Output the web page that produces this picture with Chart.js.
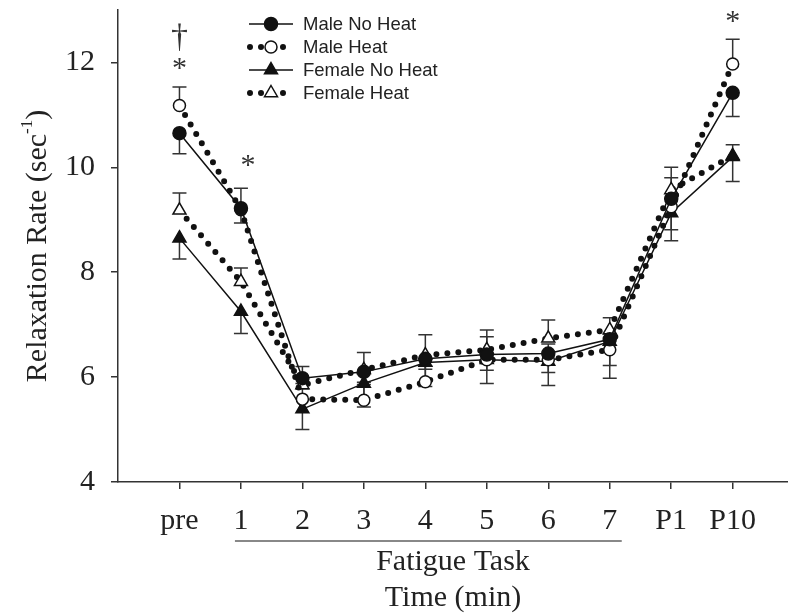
<!DOCTYPE html>
<html>
<head>
    <title>Relaxation Rate</title>
    <script src="https://cdn.jsdelivr.net/npm/chart.js"></script>
    <style>
        body { margin: 0; background: #fff; }
        .wrap { width: 788px; height: 616px; }
    </style>
</head>
<body>
    <div class="wrap"><canvas id="relaxChart" width="788" height="616"></canvas></div>

    <script>
        // Time points (pre, fatigue task minutes 1-7, post 1 and post 10)
        const timeLabels = ['pre', '1', '2', '3', '4', '5', '6', '7', 'P1', 'P10'];

        // Relaxation rate (sec^-1)
        const maleNoHeat     = [10.65, 9.22, 5.98, 6.10, 6.35, 6.43, 6.45, 6.72, 9.40, 11.42];
        const maleHeat       = [11.18, 9.19, 5.58, 5.56, 5.91, 6.33, 6.33, 6.52, 9.25, 11.97];
        const femaleNoHeat   = [8.65, 7.25, 5.39, 5.88, 6.28, 6.33, 6.30, 6.68, 9.13, 10.20];
        const femaleHeat     = [9.18, 7.82, 5.85, 6.14, 6.42, 6.52, 6.74, 6.90, 9.57, 10.22];

        // Standard errors (No Heat bars drawn down, Heat bars drawn up)
        const maleNoHeatErr   = [0.39, 0.28, 0.20, 0.20, 0.20, 0.30, 0.36, 0.50, 0.59, 0.45];
        const maleHeatErr     = [0.35, 0.41, 0.30, 0.30, 0.30, 0.44, 0.30, 0.30, 0.55, 0.47];
        const femaleNoHeatErr = [0.40, 0.42, 0.39, 0.45, 0.46, 0.45, 0.46, 0.70, 0.53, 0.47];
        const femaleHeatErr   = [0.33, 0.26, 0.35, 0.33, 0.39, 0.38, 0.35, 0.23, 0.43, 0.21];

        // Significance marks: time index, level, symbol
        const markIndex = [0, 0, 1, 9];
        const markLevel = [12.47, 12.03, 10.18, 12.93];
        const markText  = ['\u2020', '*', '*', '*'];

        const seriesNames = ['Male No Heat', 'Male Heat', 'Female No Heat', 'Female Heat'];

        const serif = '"Liberation Serif", "Times New Roman", serif';
        const sans = '"Liberation Sans", Arial, sans-serif';

        const series = [
            { name: seriesNames[0], values: maleNoHeat, err: maleNoHeatErr, dir: -1, dotted: false, shape: 'circle', filled: true, radius: 6.5 },
            { name: seriesNames[1], values: maleHeat, err: maleHeatErr, dir: 1, dotted: true, shape: 'circle', filled: false, radius: 6 },
            { name: seriesNames[2], values: femaleNoHeat, err: femaleNoHeatErr, dir: -1, dotted: false, shape: 'triangle', filled: true, radius: 7.5 },
            { name: seriesNames[3], values: femaleHeat, err: femaleHeatErr, dir: 1, dotted: true, shape: 'triangle', filled: false, radius: 7.5 }
        ];

        function styleFor(s) {
            return {
                borderColor: '#111',
                borderWidth: s.dotted ? 6 : 1.5,
                borderDash: s.dotted ? [0, 11] : [],
                borderCapStyle: s.dotted ? 'round' : 'butt',
                pointStyle: s.shape,
                pointRadius: s.radius,
                pointBackgroundColor: s.filled ? '#111' : '#fff',
                pointBorderColor: '#111',
                pointBorderWidth: 1.5
            };
        }

        const datasets = series.map(s => Object.assign({
            label: s.name,
            data: s.values.map((v, i) => ({ x: i, y: v })),
            fill: false,
            tension: 0
        }, styleFor(s)));

        // Error bars, legend, marks and titles
        const overlay = {
            id: 'overlay',
            beforeDatasetsDraw(chart) {
                const { ctx, scales: { x, y } } = chart;
                ctx.save();
                ctx.strokeStyle = '#333';
                ctx.lineWidth = 1.5;
                series.forEach(s => {
                    s.values.forEach((v, i) => {
                        const px = x.getPixelForValue(i);
                        const p0 = y.getPixelForValue(v);
                        const p1 = y.getPixelForValue(v + s.dir * s.err[i]);
                        ctx.beginPath();
                        ctx.moveTo(px, p0); ctx.lineTo(px, p1);
                        ctx.moveTo(px - 7, p1); ctx.lineTo(px + 7, p1);
                        ctx.stroke();
                    });
                });
                ctx.restore();
            },
            afterDraw(chart) {
                const { ctx, chartArea, scales: { x, y } } = chart;
                ctx.save();

                // legend
                ctx.font = '18.5px ' + sans;
                ctx.textBaseline = 'middle';
                series.forEach((s, k) => {
                    const ly = 24 + k * 23;
                    ctx.strokeStyle = '#111';
                    ctx.lineWidth = s.dotted ? 6 : 1.5;
                    ctx.lineCap = s.dotted ? 'round' : 'butt';
                    ctx.setLineDash(s.dotted ? [0, 11] : []);
                    ctx.beginPath();
                    ctx.moveTo(s.dotted ? 250 : 249, ly);
                    ctx.lineTo(s.dotted ? 284 : 293, ly);
                    ctx.stroke();
                    ctx.setLineDash([]);
                    ctx.lineCap = 'butt';
                    ctx.fillStyle = s.filled ? '#111' : '#fff';
                    ctx.lineWidth = 1.5;
                    ctx.beginPath();
                    if (s.shape === 'circle') {
                        ctx.arc(271, ly, s.radius, 0, Math.PI * 2);
                    } else {
                        const r = s.radius;
                        ctx.moveTo(271, ly - r);
                        ctx.lineTo(271 + r * 0.866, ly + r * 0.5);
                        ctx.lineTo(271 - r * 0.866, ly + r * 0.5);
                        ctx.closePath();
                    }
                    ctx.fill(); ctx.stroke();
                    ctx.fillStyle = '#222';
                    ctx.fillText(s.name, 303, ly + 1);
                });

                // significance marks
                ctx.fillStyle = '#333';
                ctx.textAlign = 'center';
                ctx.textBaseline = 'middle';
                markText.forEach((t, k) => {
                    ctx.font = (t === '*' ? '30px ' : '34px ') + serif;
                    const px = x.getPixelForValue(markIndex[k]) + (markIndex[k] === 1 ? 7 : 0);
                    const py = y.getPixelForValue(markLevel[k]) + (t === '*' ? 8 : 0);
                    ctx.fillText(t, px, py);
                });

                // fatigue task underline
                ctx.strokeStyle = '#888';
                ctx.lineWidth = 2;
                ctx.beginPath();
                ctx.moveTo(x.getPixelForValue(1) - 6, 541);
                ctx.lineTo(x.getPixelForValue(7) + 12, 541);
                ctx.stroke();

                // y axis title with superscript
                ctx.fillStyle = '#222';
                ctx.translate(38, (chartArea.top + chartArea.bottom) / 2);
                ctx.rotate(-Math.PI / 2);
                ctx.textAlign = 'left';
                ctx.textBaseline = 'middle';
                const main = 'Relaxation Rate (sec';
                ctx.font = '30px ' + serif;
                const w1 = ctx.measureText(main).width;
                const w3 = ctx.measureText(')').width;
                ctx.font = '17px ' + serif;
                const w2 = ctx.measureText('-1').width;
                let sx = -(w1 + w2 + w3) / 2;
                ctx.font = '30px ' + serif;
                ctx.fillText(main, sx, 0);
                ctx.font = '17px ' + serif;
                ctx.fillText('-1', sx + w1, -10);
                ctx.font = '30px ' + serif;
                ctx.fillText(')', sx + w1 + w2, 0);
                ctx.restore();
            }
        };

        const relaxChart = new Chart(document.getElementById('relaxChart').getContext('2d'), {
            type: 'line',
            data: { datasets: datasets },
            plugins: [overlay],
            options: {
                responsive: false,
                animation: false,
                devicePixelRatio: 1,
                layout: { autoPadding: false, padding: { top: 10, right: 0, left: 0, bottom: 0 } },
                plugins: { legend: { display: false }, tooltip: { enabled: false } },
                scales: {
                    x: {
                        type: 'linear',
                        min: -1,
                        max: 9.9,
                        afterBuildTicks: scale => { scale.ticks = timeLabels.map((t, i) => ({ value: i })); },
                        afterFit: scale => { scale.height = 134; scale.paddingLeft = 0; scale.paddingRight = 0; },
                        border: { display: true, color: '#333', width: 1.5 },
                        grid: { drawOnChartArea: false, drawTicks: true, tickLength: 7, color: '#333', lineWidth: 1.5 },
                        ticks: {
                            autoSkip: false,
                            maxRotation: 0,
                            padding: 14,
                            color: '#222',
                            font: { family: serif, size: 30 },
                            callback: v => timeLabels[v]
                        },
                        title: {
                            display: true,
                            text: ['Fatigue Task', 'Time (min)'],
                            color: '#222',
                            font: { family: serif, size: 30, lineHeight: 1.2 },
                            padding: { top: 8, bottom: 0 }
                        }
                    },
                    y: {
                        min: 4,
                        max: 13,
                        afterBuildTicks: scale => { scale.ticks = [4, 6, 8, 10, 12].map(v => ({ value: v })); },
                        afterFit: scale => { scale.width = 118; scale.paddingTop = 0; scale.paddingBottom = 0; },
                        border: { display: true, color: '#333', width: 1.5 },
                        grid: { drawOnChartArea: false, drawTicks: true, tickLength: 7, color: '#333', lineWidth: 1.5 },
                        ticks: {
                            padding: 16,
                            color: '#222',
                            font: { family: serif, size: 30 }
                        }
                    }
                }
            }
        });
    </script>
</body>
</html>
